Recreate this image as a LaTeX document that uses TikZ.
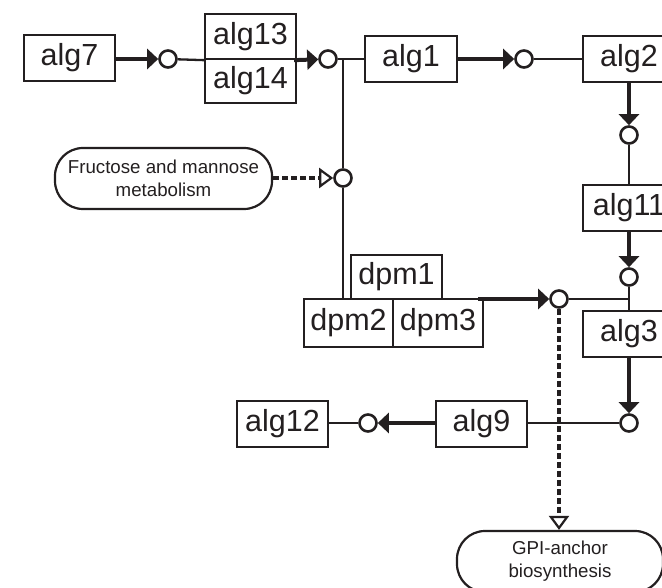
\documentclass[tikz,border=0pt]{standalone}
\usepackage{fontspec}
\setmainfont{Liberation Sans}
\usetikzlibrary{arrows.meta}
\definecolor{ink}{RGB}{35,31,32}
\begin{document}
\begin{tikzpicture}[x=1pt,y=-1pt,
  box/.style={draw=ink,line width=2.3pt,rectangle,inner sep=0pt,minimum width=91pt,minimum height=46pt,text=ink,font=\fontsize{30.5}{30}\selectfont},
  pathway/.style={draw=ink,line width=2.2pt,rounded corners=28pt,inner sep=0pt,text=ink,align=center,font=\fontsize{18.7}{23}\selectfont},
  cpd/.style={draw=ink,line width=2.6pt,circle,fill=white,minimum size=17pt,inner sep=0pt},
  thin/.style={draw=ink,line width=2.3pt},
  react/.style={draw=ink,line width=4pt,-{Triangle[length=11pt,width=20pt]}},
  link/.style={draw=ink,line width=4pt,dash pattern=on 6pt off 3pt,-{Triangle[open,length=14pt,width=20pt,line width=2.2pt]}}]
\useasboundingbox (0,0) rectangle (662,588);
\clip (0,0) rectangle (662,588);
% boxes
\node[box] (alg7) at (69.5,58) {alg7};
\node[box,minimum height=45pt] (alg13) at (250.5,36.5) {alg13};
\node[box,minimum height=44pt] (alg14) at (250.5,81) {alg14};
\node[box,minimum width=92pt] (alg1) at (411,59) {alg1};
\node[box,minimum width=92pt] (alg2) at (629,59) {alg2};
\node[box,minimum width=92pt] (alg11) at (629,208) {alg11};
\node[box,minimum width=92pt] (alg3) at (629,334) {alg3};
\node[box] (alg9) at (481.5,424) {alg9};
\node[box] (alg12) at (282.5,424) {alg12};
\node[box,minimum height=44pt] (dpm1) at (396.5,277) {dpm1};
\node[box,minimum width=89pt,minimum height=48pt] (dpm2) at (348.5,323) {dpm2};
\node[box,minimum width=90pt,minimum height=48pt] (dpm3) at (438,323) {dpm3};
\node[pathway,minimum width=217pt,minimum height=61pt] (fru) at (163.5,178.5) {Fructose and mannose\\metabolism};
\node[pathway,minimum width=206pt,minimum height=61pt] (gpi) at (560,561.5) {GPI-anchor\\biosynthesis};
% compounds
\node[cpd] (c1) at (168,59) {};
\node[cpd] (c2) at (328,59) {};
\node[cpd] (c3) at (524,59) {};
\node[cpd] (c4) at (629,135) {};
\node[cpd] (c5) at (629,277) {};
\node[cpd] (c6) at (559,299) {};
\node[cpd] (c7) at (629,423) {};
\node[cpd] (c8) at (368,423) {};
\node[cpd] (cf) at (343,178) {};
\coordinate (j1) at (343,59);
\coordinate (j2) at (c5 |- c6);
% thin connectors
\draw[thin] (c1) -- (alg13.south west);
\draw[thin] (c2) -- (alg1.west);
\draw[thin] (j1) -- (cf) -- (j1 |- dpm2.north);
\draw[thin] (c3) -- (alg2.west);
\draw[thin] (c4) -- (alg11.north);
\draw[thin] (c5) -- (alg3.north);
\draw[thin] (c6) -- (j2);
\draw[thin] (c7) -- (c7 -| alg9.east);
\draw[thin] (c8) -- (c8 -| alg12.east);
% reactions
\draw[react] (alg7.east |- c1) -- (c1);
\draw[react] ([xshift=-3pt]alg13.south east) -- (c2);
\draw[react] (alg1.east) -- (c3);
\draw[react] (alg2.south) -- (c4);
\draw[react] (alg11.south) -- (c5);
\draw[react] (alg3.south) -- (c7);
\draw[react] ([xshift=-6pt]c6 -| dpm3.north east) -- (c6);
\draw[react] (alg9.west |- c8) -- (c8);
% pathway links
\draw[link] (fru.east |- cf) -- (cf);
\draw[link] (c6) -- (c6 |- gpi.north);
\end{tikzpicture}
\end{document}
